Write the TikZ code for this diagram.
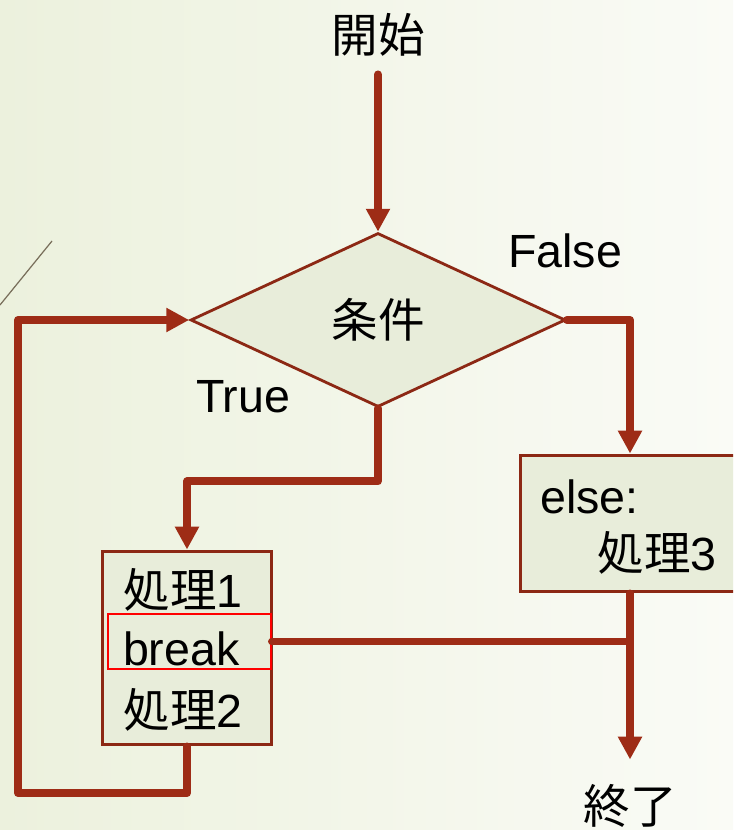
\documentclass[tikz,border=0pt]{standalone}
\usepackage{fontspec}
\setmainfont{Liberation Sans}
\newfontfamily\cjk{Noto Sans CJK JP}
\usetikzlibrary{shapes.geometric,arrows.meta}
\definecolor{flowred}{RGB}{158,44,22}
\definecolor{boxline}{RGB}{140,40,20}
\definecolor{boxfill}{RGB}{232,237,218}
\definecolor{bgleft}{RGB}{236,241,221}
\definecolor{bgright}{RGB}{250,251,246}

\begin{document}
\begin{tikzpicture}[x=0.02cm, y=-0.02cm,
    every node/.style={font=\fontsize{26.5}{30}\selectfont, inner sep=0pt},
    flow/.style={draw=flowred, line width=4.5pt, line join=round, line cap=round,
        -{Triangle[length=13pt,width=13pt]}},
    link/.style={draw=flowred, line width=4.5pt, line join=round, line cap=round},
    decision/.style={diamond, draw=boxline, fill=boxfill, line width=1.6pt,
        minimum width=7.5cm, minimum height=3.48cm},
    procbox/.style={rectangle, draw=boxline, fill=boxfill, line width=1.7pt},
    brkbox/.style={rectangle, draw=red, line width=1.1pt, minimum width=3.26cm,
        minimum height=1.1cm, text width=2.66cm, text height=0.97cm, text depth=0pt,
        inner xsep=0.3cm, align=left}]
    \useasboundingbox (0,0) rectangle (733,830);
    \clip (0,0) rectangle (733,830);
    \shade[left color=bgleft, right color=bgright] (0,0) rectangle (733,830);
    \draw[color={rgb,255:red,120;green,110;blue,90}, line width=0.7pt] (0,305) -- (52,241);

    \node (start) at (378,35) {\cjk 開始};
    \node[decision] (cond) at (378,320) {\cjk 条件};
    \node (false) at (565,251) {False};
    \node (true) at (243,397) {True};

    \node[procbox, minimum width=3.38cm, minimum height=3.88cm] (proc) at (187,648) {};
    \node (p1) at (183,590) {{\cjk 処理}1};
    \node[brkbox] (brk) at (189.5,641.5) {break};
    \node (p2) at (183,710) {{\cjk 処理}2};

    \node[procbox, minimum width=4.4cm, minimum height=2.74cm] (elsebox) at (630,523.5) {};
    \node[anchor=west] (elsetxt) at (540,497) {else:};
    \node (p3) at (657,553) {{\cjk 処理}3};

    \node (end) at (630,806) {\cjk 終了};
    \coordinate (back) at (18,793);

    \draw[flow, shorten <=10pt] (start) -- (cond.north);
    \draw[flow] (cond.east) -| (elsebox.north);
    \draw[flow] (cond.south) -- ++(0,73) -| (proc.north);
    \draw[flow, shorten >=14pt] (elsebox.south) -- (end.north);
    \draw[link] (brk.east) -- (brk.east -| elsebox.south);
    \draw[flow] (proc.south) |- (back) |- (cond.west);
\end{tikzpicture}
\end{document}
